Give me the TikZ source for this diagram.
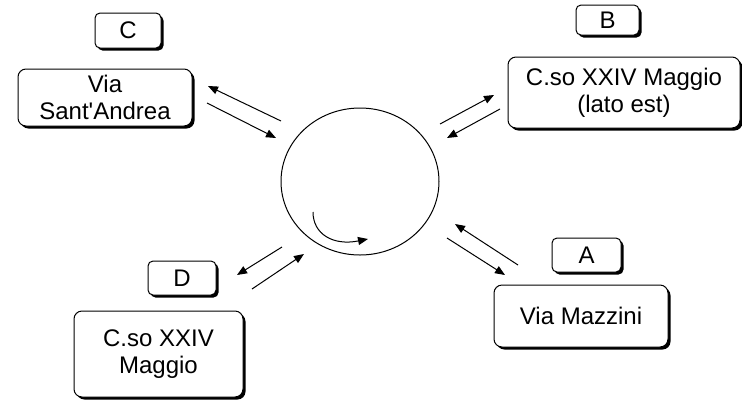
\documentclass[tikz,border=0pt]{standalone}
\usepackage{fontspec}
\setmainfont{Liberation Sans}
\usetikzlibrary{shapes.geometric,shadows,arrows.meta}
\begin{document}
\begin{tikzpicture}[x=1pt,y=-1pt,
  font=\fontsize{24}{27}\selectfont,
  boxshadow/.style={drop shadow={shadow xshift=2.5pt,shadow yshift=-2.5pt,opacity=1,fill=black}},
  place/.style={draw,line width=1pt,fill=white,rounded corners=8pt,align=center,boxshadow,inner sep=0pt},
  tag/.style={draw,line width=1pt,fill=white,rounded corners=5pt,align=center,boxshadow,inner sep=0pt},
  flow/.style={line width=1pt,-{Triangle[length=10pt,width=8pt]}}]
\useasboundingbox (0,0) rectangle (742,400);

% roundabout
\node[ellipse,draw,line width=1pt,minimum width=158pt,minimum height=147pt,inner sep=0pt] (hub) at (360,181.5) {};
\draw[flow] (313,212) .. controls (313,234) and (333,246) .. (368,239);

% streets and their letters
\node[place,minimum width=174pt,minimum height=57pt] (sant) at (105,97.5) {Via\\Sant\textquotesingle Andrea};
\node[tag,minimum width=66pt,minimum height=35pt] (tC) at (128,30.5) {C};

\node[place,minimum width=232pt,minimum height=71pt] (est) at (624,92.5) {C.so XXIV Maggio\\(lato est)};
\node[tag,minimum width=63pt,minimum height=30pt] (tB) at (607.5,20) {B};

\node[place,minimum width=169pt,minimum height=86pt] (maggio) at (158.5,354) {C.so XXIV\\Maggio};
\node[tag,minimum width=68pt,minimum height=34pt] (tD) at (182,278) {D};

\node[place,minimum width=174pt,minimum height=62pt] (mazzini) at (581,316) {Via Mazzini};
\node[tag,minimum width=69pt,minimum height=34pt] (tA) at (586.5,255) {A};

% two-way traffic pairs
\coordinate (c1) at (281,121); \coordinate (c2) at (208,86);
\coordinate (c3) at (207,103); \coordinate (c4) at (276,138);
\coordinate (b1) at (440,124); \coordinate (b2) at (494,95);
\coordinate (b3) at (500,109); \coordinate (b4) at (447,138);
\coordinate (a1) at (518,265); \coordinate (a2) at (455,224);
\coordinate (a3) at (447,238); \coordinate (a4) at (505,275);
\coordinate (d1) at (282,247); \coordinate (d2) at (237,275);
\coordinate (d3) at (252,289); \coordinate (d4) at (304,254);

\draw[flow] (c1) -- (c2);
\draw[flow] (c3) -- (c4);
\draw[flow] (b1) -- (b2);
\draw[flow] (b3) -- (b4);
\draw[flow] (a1) -- (a2);
\draw[flow] (a3) -- (a4);
\draw[flow] (d1) -- (d2);
\draw[flow] (d3) -- (d4);
\end{tikzpicture}
\end{document}
